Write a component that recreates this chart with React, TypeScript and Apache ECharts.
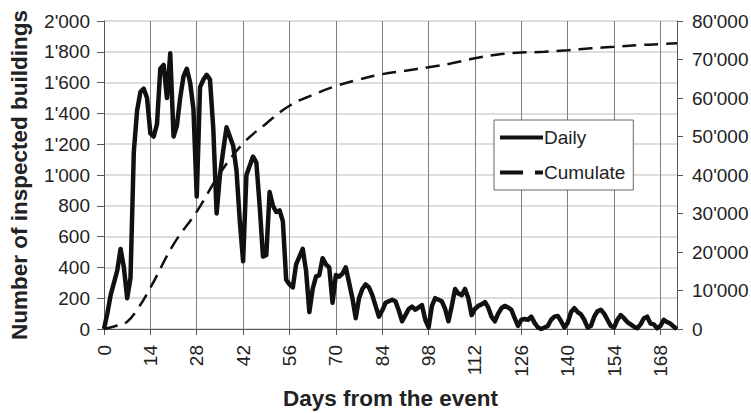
import React, { useEffect, useRef } from "react";
import * as echarts from "echarts";

// Daily inspected buildings, day 0 .. 173
const dailyValues: number[] = [
  0, 100, 220, 300, 380, 520, 400, 200, 330, 1150,
  1420, 1540, 1560, 1500, 1270, 1250, 1330, 1690, 1715, 1500,
  1790, 1250, 1320, 1500, 1640, 1690, 1600, 1430, 860, 1570,
  1620, 1650, 1620, 1300, 750, 1000, 1160, 1310, 1250, 1190,
  1030, 700, 440, 1000, 1060, 1120, 1080, 800, 470, 480,
  890, 800, 760, 770, 700, 320, 290, 270, 420, 470,
  520, 380, 110, 260, 340, 350, 460, 420, 400, 170,
  350, 340, 360, 400, 300, 200, 70, 200, 260, 290,
  270, 220, 150, 80, 120, 170, 180, 190, 180, 120,
  50, 90, 130, 145, 125, 140, 155, 60, 10, 150,
  200, 190, 180, 130, 50, 150, 260, 230, 220, 260,
  200, 90, 130, 150, 160, 175, 140, 80, 50, 100,
  135, 150, 140, 125, 70, 20, 60, 65, 60, 80,
  40, 10, 0, 10, 20, 60, 80, 85, 50, 10,
  40, 110, 135, 110, 95, 60, 10, 20, 80, 115,
  125, 100, 60, 20, 10, 60, 90, 70, 45, 30,
  15, 5, 30, 70, 80, 35, 30, 5, 20, 60,
  45, 35, 15, 0,
];

// Cumulative curve read at these days
const cumulateDays: number[] = [
  0, 4, 7, 10, 14, 21, 28, 35, 42, 49, 56, 63, 70, 77, 84, 91, 98, 105,
  112, 119, 126, 133, 140, 147, 154, 161, 168, 173,
];
const cumulateValues: number[] = [
  0, 900, 1900, 5000, 10700, 22000, 30500, 40400, 48200, 53400, 58000,
  60800, 63100, 64800, 66200, 67100, 68000, 69000, 70300, 71300, 71800,
  72000, 72400, 72900, 73300, 73700, 74000, 74200,
];

const seriesNames = ["Daily", "Cumulate"];
const xTitle = "Days from the event";
const yTitle = "Number of inspected buildings";

const fontFamily = "'Liberation Sans', Arial, sans-serif";

function fmt(v: number): string {
  if (v >= 1000) {
    const th = Math.floor(v / 1000);
    const rest = String(v % 1000).padStart(3, "0");
    return `${th}'${rest}`;
  }
  return String(v);
}

export default function App() {
  const ref = useRef<HTMLDivElement>(null);
  useEffect(() => {
    if (!ref.current) return;
    const chart = echarts.init(ref.current, undefined, { renderer: "svg" });
    const dailyData = dailyValues.map((v, i) => [i, v]);
    const cumData = cumulateDays.map((d, i) => [d, cumulateValues[i]]);
    chart.setOption({
      animation: false,
      backgroundColor: "#ffffff",
      textStyle: { fontFamily },
      grid: {
        left: 104,
        right: 74,
        top: 21,
        bottom: 84,
        containLabel: false,
        outerBoundsMode: "none",
      },
      legend: {
        left: 494,
        top: 120,
        orient: "vertical",
        backgroundColor: "#ffffff",
        borderColor: "#666",
        borderWidth: 1,
        borderRadius: 0,
        padding: [8, 8, 8, 6],
        itemWidth: 43,
        itemHeight: 4,
        itemGap: 16,
        itemStyle: { color: "#111", borderWidth: 0 },
        textStyle: { fontSize: 19, color: "#222", fontFamily, padding: [0, 0, 0, -4] },
        data: [
          { name: seriesNames[0], icon: "path://M0,0H43V4H0Z" },
          { name: seriesNames[1], icon: "path://M0,0H23V4H0Z M35,0H43V4H35Z" },
        ],
        z: 10,
      },
      xAxis: {
        type: "value",
        min: 0,
        max: 173,
        interval: 14,
        name: xTitle,
        nameLocation: "middle",
        nameGap: 58,
        nameTextStyle: { fontSize: 22.5, fontWeight: "bold", color: "#222", fontFamily },
        axisLine: { show: true, lineStyle: { color: "#555", width: 1 } },
        axisTick: { show: true, length: 6, lineStyle: { color: "#555" } },
        axisLabel: {
          rotate: 90,
          fontSize: 19,
          color: "#222",
          margin: 16,
          showMaxLabel: false,
          fontFamily,
        },
        splitLine: { show: true, lineStyle: { color: "#808080", width: 1 } },
      },
      yAxis: [
        {
          type: "value",
          min: 0,
          max: 2000,
          interval: 200,
          name: yTitle,
          nameLocation: "middle",
          nameRotate: 90,
          nameGap: 73,
          nameTextStyle: { fontSize: 22.5, fontWeight: "bold", color: "#222", fontFamily },
          axisLine: { show: true, lineStyle: { color: "#555", width: 1 } },
          axisTick: { show: true, length: 7, lineStyle: { color: "#555" } },
          axisLabel: { fontSize: 19, color: "#222", margin: 14, formatter: fmt, fontFamily },
          splitLine: { show: true, lineStyle: { color: "#ddd", width: 2 } },
        },
        {
          type: "value",
          min: 0,
          max: 80000,
          interval: 10000,
          position: "right",
          axisLine: { show: true, lineStyle: { color: "#555", width: 1 } },
          axisTick: { show: true, length: 6, lineStyle: { color: "#555" } },
          axisLabel: { fontSize: 19, color: "#222", margin: 15, formatter: fmt, fontFamily },
          splitLine: { show: false },
        },
      ],
      series: [
        {
          name: seriesNames[0],
          type: "line",
          data: dailyData,
          yAxisIndex: 0,
          showSymbol: false,
          symbol: "none",
          z: 4,
          lineStyle: { color: "#111", width: 4.5, join: "round" },
          itemStyle: { color: "#111" },
        },
        {
          name: seriesNames[1],
          type: "line",
          data: cumData,
          yAxisIndex: 1,
          showSymbol: false,
          symbol: "none",
          smooth: 0.4,
          z: 3,
          lineStyle: { color: "#111", width: 2.5, type: [14, 8] },
          itemStyle: { color: "#111" },
        },
      ],
    });
    return () => chart.dispose();
  }, []);
  return (
    <div
      ref={ref}
      style={{ position: "fixed", left: 0, top: 0, width: 751, height: 413, background: "#fff" }}
    />
  );
}
